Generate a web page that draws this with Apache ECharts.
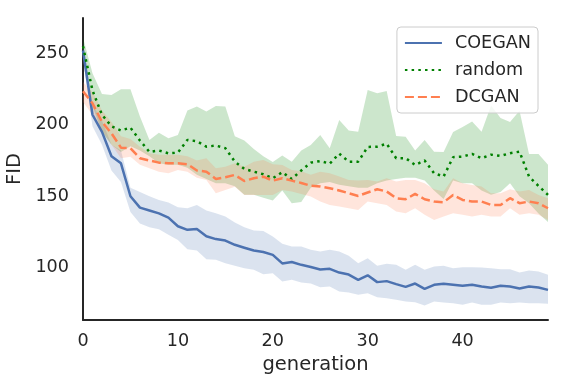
<!DOCTYPE html>
<html>
<head>
<meta charset="utf-8">
<script src="https://cdn.jsdelivr.net/npm/echarts@6/dist/echarts.min.js"></script>
<style>html,body{margin:0;padding:0;background:#fff}#c{width:566px;height:386px}</style>
</head>
<body>
<div id="c"></div>
<script>
const generations = [0,1,2,3,4,5,6,7,8,9,10,11,12,13,14,15,16,17,18,19,20,21,22,23,24,25,26,27,28,29,30,31,32,33,34,35,36,37,38,39,40,41,42,43,44,45,46,47,48,49];
const xTicks = [0,10,20,30,40];
const yTicks = [100,150,200,250];

const coeganMean = [252,207,195,178,173,150,142,140,138,135, 129,126.5,127,122,120,119,116,114,112,111, 109,103,104,102,100.5,98.7,99.2,96.6,95.2,91.5, 94.7,89.9,90.6,88.5,86.6,88.9,85.2,88,88.7,88, 87.3,88,86.8,85.9,87.3,86.8,85.4,86.8,86.1,84.5];
const coeganHigh = [258,214,203,186,182,156,153,150,147.4,145.6, 142.3,141.6,143.9,140,138.1,135.8,131.6,128.3,126,125.7, 121.8,116.7,114.8,114.8,112.5,111.3,112.5,111.3,108.3,103.1, 106.6,101.3,102.7,102,98.5,102,98.5,100.8,101.3,99.6, 100.3,100.3,100.1,99.6,98.9,98.9,96.6,98,97.3,95];
const coeganLow = [246,199,186,168,160,139,131,128.3,126.9,123, 119.4,112.9,112,105.9,105.5,103.1,101.3,99.6,98.5,95.4, 96.1,90.3,91.5,89.6,89,86.3,86.8,83.3,82.6,81, 82.2,79.4,78.7,77.5,76.3,75.9,73.5,76.3,75.6,75.2, 74,75.6,74,74,75.6,75.2,75.6,75.2,75.2,74.7];

const randomMean = [255,224,207,199,196,198,189,181,182,180, 180.5,189.4,188.5,184.7,185.4,183.6,174.2,169.1,167.2,165.4, 162.6,166.8,162.1,168,173.5,174.6,172.8,179.8,174.2,174.2, 184.5,184.7,186.7,176.6,176.6,171.9,175,166.1,163.8,177.3, 177.7,179.6,176.6,179.1,178.2,180.1,181.2,163.8,157.2,150.9];
const randomHigh = [261,236,221.6,220.9,224.8,224.8,205.7,189.4,194.5,190.6, 192.9,209.9,212.7,209.2,213.2,212.7,192,189,183,178, 174,178.5,174.2,182,185.9,192.9,183.6,203.4,195.9,195.2, 224.4,222,223.7,192.2,191.7,182,189.4,181.2,181,195, 198.4,202.2,195.2,213.5,204.8,202,209.8,179.5,179.5,172];
const randomLow = [250,213,195,186,181,185,182,178,173,172, 172,170,165,162,159,159,157,151,151,149, 147,154,145,146,156,159,160,158,157,156, 156,159,161,162,163,163,161,154,148,161, 159,159,154,151,153,159,150,145,138,132];

const dcganMean = [223.5,215,202,194,184,183.6,176.6,175,173.5,173, 173,172.4,168,167.2,162.1,163.3,164.9,160.7,162.6,163.7, 160.9,162.6,160.9,159.3,157.3,156.8,155.6,154,152.1,150.2, 152.6,154.9,153.3,148.6,147.9,151.6,147.9,146.3,145.8,150.9, 147.4,146.3,146.3,143.9,143.9,148.6,145.1,146.3,145.1,141.6];
const dcganHigh = [230,223,210,202,192,190,184.7,180,179,179, 179,178,175,176.6,169.6,170.7,173.1,170.7,174.2,175.4, 172.4,171.9,168.4,167.5,165,167.2,166.1,163.8,161.4,161, 161.4,160.3,162.6,160.3,161.4,161.4,159.1,154.9,153.3,162.6, 159.1,157.9,156.8,152.1,152.1,154.9,153.3,154.4,150.9,148.6];
const dcganLow = [216,207,196,186,176.6,177.7,172,169.6,167.2,166.1, 168.4,167.2,163,161.4,152.1,154.4,156.7,150.9,150.9,150.9, 150.9,154.4,153.3,151.5,149.8,146.3,143.9,142.8,141.6,140.4, 146.3,145.1,143.9,139.3,138.1,141.6,137,133.4,135.8,138.1, 137,135.8,137,135.8,135.8,141.6,137,138.1,137,133.4];

const seriesNames = ['COEGAN','random','DCGAN'];

const TXT = '#262626';
const FONT = 'DejaVu Sans';

function pairs(arr){ return arr.map((v,i)=>[generations[i], v]); }
function band(name, low, high, color){
  return {
    name: name+' band', type:'custom', silent:true, z:1,
    data:[[generations[0], low[0]]],
    encode:{x:0, y:1},
    renderItem: function(params, api){
      const pts = [];
      for (let i = 0; i < generations.length; i++) pts.push(api.coord([generations[i], high[i]]));
      for (let i = generations.length - 1; i >= 0; i--) pts.push(api.coord([generations[i], low[i]]));
      return {type:'polygon', shape:{points:pts}, style:{fill:color, stroke:null}};
    }
  };
}

const chart = echarts.init(document.getElementById('c'), null, {renderer:'canvas'});
chart.setOption({
  animation:false,
  backgroundColor:'#ffffff',
  textStyle:{fontFamily:FONT, color:TXT},
  grid:{left:83, right:18, top:18, bottom:66, containLabel:false, outerBoundsMode:'none'},
  xAxis:{
    type:'value', min:0, max:49,
    name:'generation', nameLocation:'middle', nameGap:33,
    nameTextStyle:{fontSize:19.5, color:TXT, fontFamily:FONT},
    axisLine:{show:true, onZero:false, lineStyle:{color:TXT, width:2}},
    axisTick:{show:false},
    splitLine:{show:false},
    axisLabel:{customValues:xTicks, fontSize:17.6, color:TXT, margin:12, fontFamily:FONT}
  },
  yAxis:{
    type:'value', min:63.4, max:274.7,
    name:'FID', nameLocation:'middle', nameGap:47,
    nameTextStyle:{fontSize:19.5, color:TXT, fontFamily:FONT},
    axisLine:{show:true, onZero:false, lineStyle:{color:TXT, width:2}},
    axisTick:{show:false},
    splitLine:{show:false},
    axisLabel:{customValues:yTicks, fontSize:17.6, color:TXT, margin:14, fontFamily:FONT}
  },
  legend:{
    data:seriesNames, orient:'vertical', right:28, top:27,
    padding:[7,7,7,7], itemWidth:37, itemHeight:18, itemGap:9,
    backgroundColor:'rgba(255,255,255,0.8)', borderColor:'#cccccc', borderWidth:1, borderRadius:4,
    itemStyle:{opacity:0},
    textStyle:{fontSize:17.6, color:TXT, fontFamily:FONT, padding:[0,0,0,8], lineHeight:18}
  },
  series:[
    band('COEGAN', coeganLow, coeganHigh, 'rgba(76,114,176,0.2)'),
    band('random', randomLow, randomHigh, 'rgba(0,128,0,0.2)'),
    band('DCGAN', dcganLow, dcganHigh, 'rgba(255,127,80,0.2)'),
    {name:'COEGAN', type:'line', data:pairs(coeganMean), symbol:'none', z:3,
     itemStyle:{color:'#4c72b0'}, lineStyle:{color:'#4c72b0', width:2.5}},
    {name:'random', type:'line', data:pairs(randomMean), symbol:'none', z:3,
     itemStyle:{color:'#008000'}, lineStyle:{color:'#008000', width:2.5, type:[2.5,4.2]}},
    {name:'DCGAN', type:'line', data:pairs(dcganMean), symbol:'none', z:3,
     itemStyle:{color:'#ff7f50'}, lineStyle:{color:'#ff7f50', width:2.5, type:[9,4]}}
  ]
});
</script>
</body>
</html>
